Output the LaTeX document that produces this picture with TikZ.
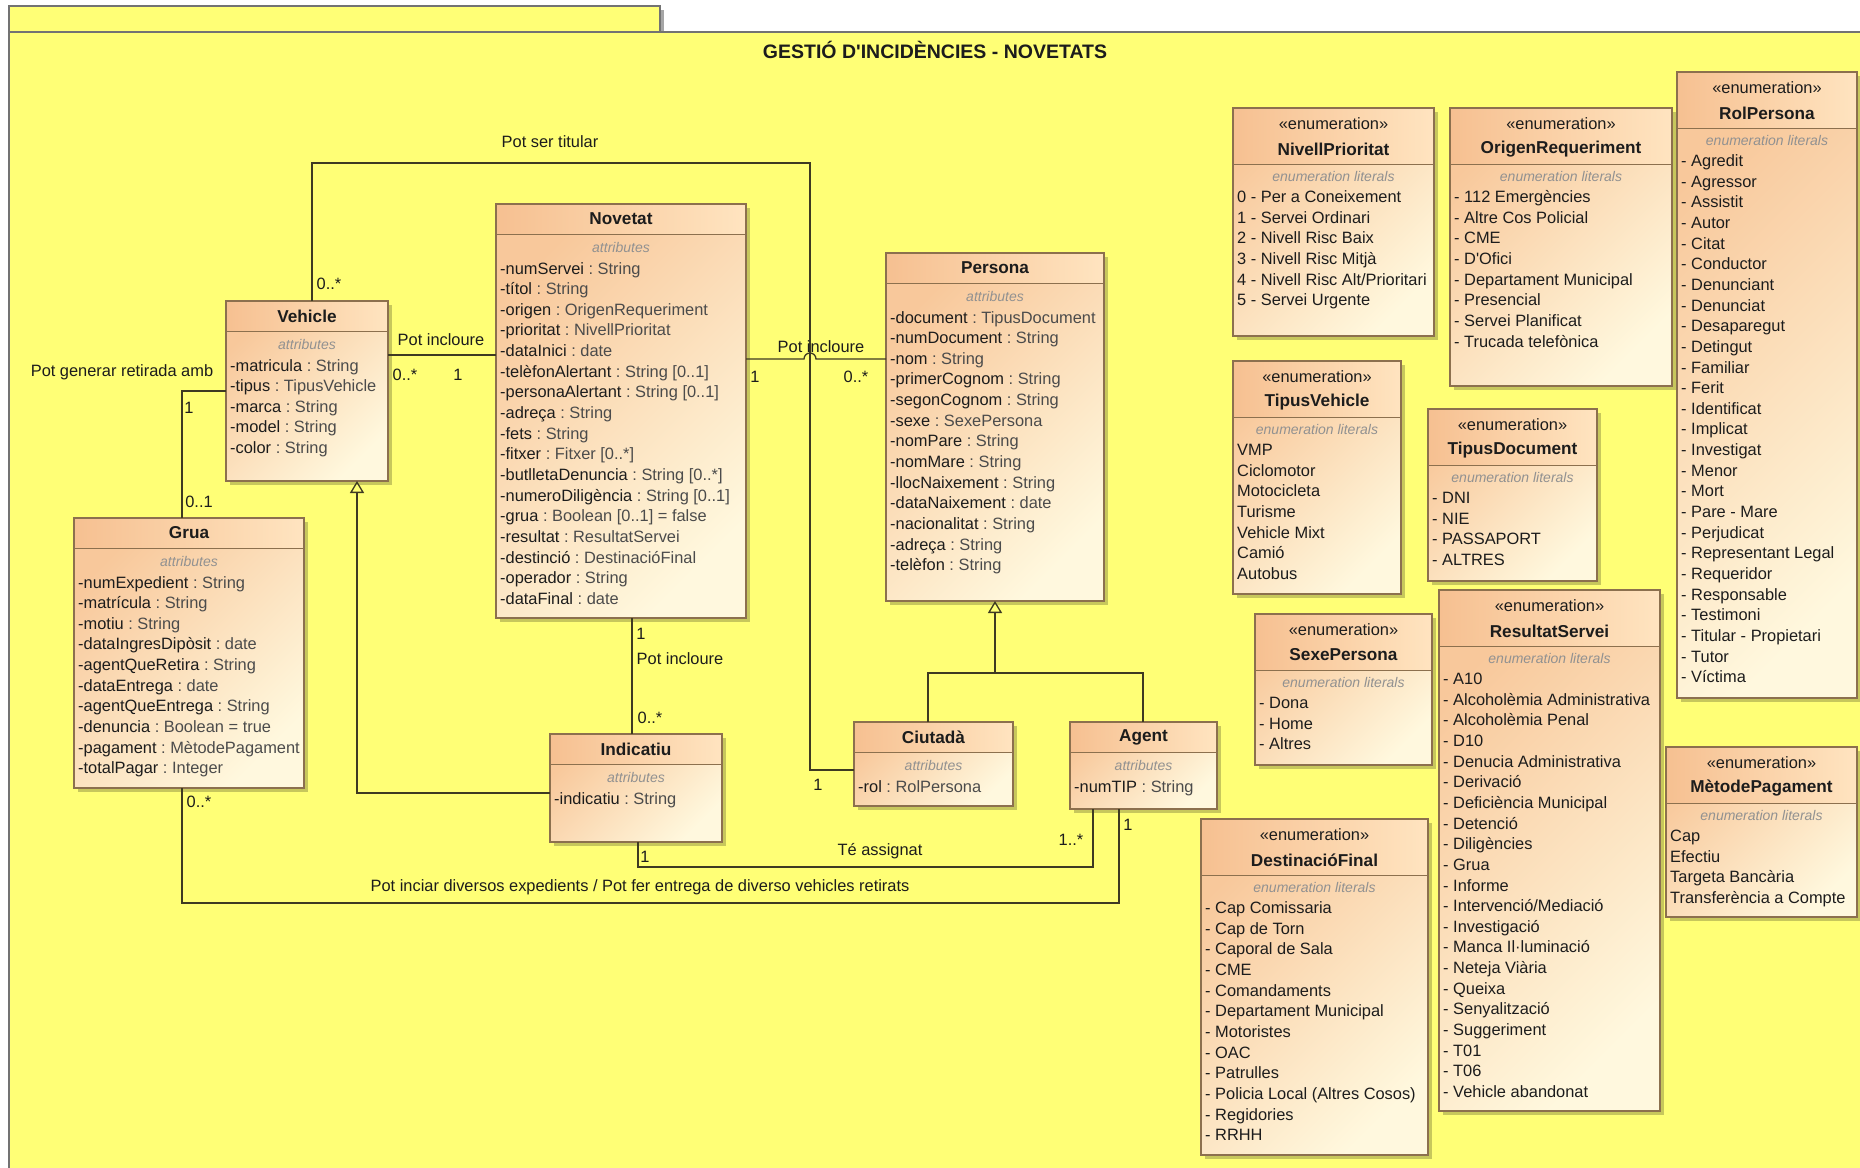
\documentclass[tikz,border=0pt]{standalone}
\usepackage{fontspec}
\setmainfont{Liberation Sans}
\usetikzlibrary{calc,shadows,arrows.meta}
\definecolor{bg}{RGB}{255,255,118}
\definecolor{boxA}{RGB}{248,200,155}
\definecolor{boxB}{RGB}{255,248,222}
\definecolor{hdrA}{RGB}{246,192,145}
\definecolor{hdrB}{RGB}{255,228,192}
\definecolor{brd}{RGB}{140,112,78}
\definecolor{lblc}{RGB}{145,145,145}
\definecolor{txtc}{RGB}{28,28,28}
\definecolor{tyc}{RGB}{75,75,75}
\definecolor{lnc}{RGB}{62,58,34}
\definecolor{frm}{RGB}{115,115,115}
\newcommand\atr[2]{#1\ \textcolor{tyc}{:\ #2}}
\tikzset{
  boxbg/.style={shade, top color=boxA, bottom color=boxB, shading angle=45,
    inner sep=0pt, outer sep=0pt,
    drop shadow={shadow xshift=4pt, shadow yshift=-4pt, fill=black, opacity=0.22}},
  hdrbg/.style={left color=hdrA, right color=hdrB},
  boxline/.style={draw=brd, line width=1.1pt},
  sepline/.style={draw=brd, line width=1pt},
  clsname/.style={font=\fontsize{17.2}{20}\selectfont\bfseries, text=txtc, inner sep=0pt},
  stereo/.style={font=\fontsize{16.4}{20}\selectfont, text=txtc, inner sep=0pt},
  seclbl/.style={font=\fontsize{14}{16}\selectfont\itshape, text=lblc, inner sep=0pt},
  attr/.style={font=\fontsize{16.4}{20}\selectfont, text=txtc, inner sep=0pt},
  lab/.style={font=\fontsize{16.4}{20}\selectfont, text=txtc, inner sep=0pt},
  conn/.style={draw=lnc, line width=1.3pt},
  gen/.style={-{Triangle[open,length=12pt,width=14pt]}},
  framel/.style={draw=frm, line width=1.4pt}
}
\newcommand\umlbox[6]{%
  \node[boxbg, minimum width=#4pt, minimum height=#5pt, anchor=north west] (#1) at (#2,#3) {};
  \fill[hdrbg] (#1.north west) rectangle ($(#1.north east)+(0,#6)$);
  \draw[sepline] ($(#1.north west)+(0,#6)$) -- ($(#1.north east)+(0,#6)$);
  \draw[boxline] (#1.north west) rectangle (#1.south east);
}
\newcommand\umlclass[7]{%
  \umlbox{#1}{#2}{#3}{#4}{#5}{30}
  \node[clsname] (#1T) at ($(#1.north)+(0,15)$) {#6};
  \node[seclbl] (#1S) at ($(#1.north)+(0,43)$) {attributes};
  \foreach \itm [count=\i] in {#7} {
    \node[attr, anchor=base west] (#1L\i) at ($(#1.north west)+(4,{70+(\i-1)*20.65})$) {\itm};
  }
}
\newcommand\umlenum[7]{%
  \umlbox{#1}{#2}{#3}{#4}{#5}{56}
  \node[stereo] (#1St) at ($(#1.north)+(0,16)$) {«enumeration»};
  \node[clsname] (#1T) at ($(#1.north)+(0,41)$) {#6};
  \node[seclbl] (#1S) at ($(#1.north)+(0,68)$) {enumeration literals};
  \foreach \itm [count=\i] in {#7} {
    \node[attr, anchor=base west] (#1L\i) at ($(#1.north west)+(4,{94.5+(\i-1)*20.65})$) {\itm};
  }
}
\begin{document}
\begin{tikzpicture}[x=1pt,y=-1pt]
\useasboundingbox (0,0) rectangle (1860,1167);
\fill[white] (0,0) rectangle (1860,1167);
% frame
\fill[black!35] (660,10) rectangle (664,32);
\draw[framel, fill=bg] (9,6) rectangle (660,32);
\draw[framel, fill=bg] (9,32) rectangle (1880,1190);
\node[font=\fontsize{19.5}{22}\selectfont\bfseries, text=txtc, inner sep=0pt] (title) at (935,50) {GESTIÓ D\textquotesingle INCIDÈNCIES - NOVETATS};

% ---------- classes ----------
\umlclass{veh}{226}{301}{162}{180}{Vehicle}{\atr{-matricula}{String},\atr{-tipus}{TipusVehicle},\atr{-marca}{String},\atr{-model}{String},\atr{-color}{String}}

\umlclass{nov}{496}{204}{250}{414}{Novetat}{\atr{-numServei}{String},\atr{-títol}{String},\atr{-origen}{OrigenRequeriment},\atr{-prioritat}{NivellPrioritat},\atr{-dataInici}{date},\atr{-telèfonAlertant}{String [0..1]},\atr{-personaAlertant}{String [0..1]},\atr{-adreça}{String},\atr{-fets}{String},\atr{-fitxer}{Fitxer [0..*]},\atr{-butlletaDenuncia}{String [0..*]},\atr{-numeroDiligència}{String [0..1]},\atr{-grua}{Boolean [0..1] = false},\atr{-resultat}{ResultatServei},\atr{-destinció}{DestinacióFinal},\atr{-operador}{String},\atr{-dataFinal}{date}}

\umlclass{per}{886}{253}{218}{348}{Persona}{\atr{-document}{TipusDocument},\atr{-numDocument}{String},\atr{-nom}{String},\atr{-primerCognom}{String},\atr{-segonCognom}{String},\atr{-sexe}{SexePersona},\atr{-nomPare}{String},\atr{-nomMare}{String},\atr{-llocNaixement}{String},\atr{-dataNaixement}{date},\atr{-nacionalitat}{String},\atr{-adreça}{String},\atr{-telèfon}{String}}

\umlclass{gru}{74}{518}{230}{270}{Grua}{\atr{-numExpedient}{String},\atr{-matrícula}{String},\atr{-motiu}{String},\atr{-dataIngresDipòsit}{date},\atr{-agentQueRetira}{String},\atr{-dataEntrega}{date},\atr{-agentQueEntrega}{String},\atr{-denuncia}{Boolean = true},\atr{-pagament}{MètodePagament},\atr{-totalPagar}{Integer}}

\umlclass{ind}{550}{734}{172}{108}{Indicatiu}{\atr{-indicatiu}{String}}
\umlclass{ciu}{854}{722}{159}{84}{Ciutadà}{\atr{-rol}{RolPersona}}
\umlclass{agt}{1070}{722}{147}{87}{Agent}{\atr{-numTIP}{String}}

% ---------- enumerations ----------
\umlenum{np}{1233}{108}{201}{228}{NivellPrioritat}{0 - Per a Coneixement,1 - Servei Ordinari,2 - Nivell Risc Baix,3 - Nivell Risc Mitjà,4 - Nivell Risc Alt/Prioritari,5 - Servei Urgente}

\umlenum{orq}{1450}{108}{222}{278}{OrigenRequeriment}{- 112 Emergències,- Altre Cos Policial,- CME,- D\textquotesingle Ofici,- Departament Municipal,- Presencial,- Servei Planificat,- Trucada telefònica}

\umlenum{rol}{1677}{72}{180}{626}{RolPersona}{- Agredit,- Agressor,- Assistit,- Autor,- Citat,- Conductor,- Denunciant,- Denunciat,- Desaparegut,- Detingut,- Familiar,- Ferit,- Identificat,- Implicat,- Investigat,- Menor,- Mort,- Pare - Mare,- Perjudicat,- Representant Legal,- Requeridor,- Responsable,- Testimoni,- Titular - Propietari,- Tutor,- Víctima}

\umlenum{tv}{1233}{361}{168}{233}{TipusVehicle}{VMP,Ciclomotor,Motocicleta,Turisme,Vehicle Mixt,Camió,Autobus}

\umlenum{td}{1428}{409}{169}{172}{TipusDocument}{- DNI,- NIE,- PASSAPORT,- ALTRES}

\umlenum{sx}{1255}{614}{177}{151}{SexePersona}{- Dona,- Home,- Altres}

\umlenum{rs}{1439}{590}{221}{521}{ResultatServei}{- A10,- Alcoholèmia Administrativa,- Alcoholèmia Penal,- D10,- Denucia Administrativa,- Derivació,- Deficiència Municipal,- Detenció,- Diligències,- Grua,- Informe,- Intervenció/Mediació,- Investigació,- Manca Il·luminació,- Neteja Viària,- Queixa,- Senyalització,- Suggeriment,- T01,- T06,- Vehicle abandonat}

\umlenum{mp}{1666}{747}{191}{170}{MètodePagament}{Cap,Efectiu,Targeta Bancària,Transferència a Compte}

\umlenum{df}{1201}{819}{227}{336}{DestinacióFinal}{- Cap Comissaria,- Cap de Torn,- Caporal de Sala,- CME,- Comandaments,- Departament Municipal,- Motoristes,- OAC,- Patrulles,- Policia Local (Altres Cosos),- Regidories,- RRHH}

% ---------- connectors ----------
% Pot ser titular: Vehicle -- Ciutada
\draw[conn] (veh.north west) ++(86,0) |- (810,163) |- ($(ciu.north west)+(0,48)$);
% Vehicle -- Novetat
\draw[conn] ($(veh.north east)+(0,54)$) -- ($(nov.north west)+(0,151)$);
% Novetat -- Persona (with hop)
\draw[conn] ($(nov.north east)+(0,155)$) -- ++(58,0) arc[start angle=180,end angle=0,radius=6pt] -- ($(per.north west)+(0,106)$);
% Vehicle -- Grua
\draw[conn] ($(veh.north west)+(0,90)$) -| ($(gru.north west)+(108,0)$);
% Novetat -- Indicatiu
\draw[conn] ($(nov.south west)+(136,0)$) -- ($(ind.north west)+(82,0)$);
% Indicatiu generalises Vehicle
\draw[conn,gen] ($(ind.north west)+(0,59)$) -| ($(veh.south west)+(131,0)$);
% Ciutada / Agent generalise Persona
\draw[conn] ($(ciu.north west)+(74,0)$) |- ($(agt.north west)+(73,-49)$) -- ($(agt.north west)+(73,0)$);
\draw[conn,gen] ($(per.south)+(0,72)$) -- (per.south);
% Te assignat: Indicatiu -- Agent
\draw[conn] ($(ind.south west)+(88,0)$) |- ($(agt.south west)+(23,58)$) -- ($(agt.south west)+(23,0)$);
% Grua -- Agent
\draw[conn] ($(gru.south west)+(108,0)$) |- ($(agt.south west)+(49,94)$) -- ($(agt.south west)+(49,0)$);

% ---------- connector labels ----------
\node[lab] (l1) at (550,142) {Pot ser titular};
\node[lab] (m1) at (329,284) {0..*};
\node[lab] (m2) at (818,785) {1};
\node[lab] (l2) at (441,340) {Pot incloure};
\node[lab] (m3) at (405,375) {0..*};
\node[lab] (m4) at (458,375) {1};
\node[lab] (l3) at (821,347) {Pot incloure};
\node[lab] (m5) at (755,377) {1};
\node[lab] (m6) at (856,377) {0..*};
\node[lab] (l4) at (122,372) {Pot generar retirada amb};
\node[lab] (m7) at (189,408) {1};
\node[lab] (m8) at (199,502) {0..1};
\node[lab] (m9) at (641,634) {1};
\node[lab] (l5) at (680,659) {Pot incloure};
\node[lab] (m10) at (650,718) {0..*};
\node[lab] (m11) at (645,857) {1};
\node[lab] (l6) at (880,851) {Té assignat};
\node[lab] (m12) at (1071,840) {1..*};
\node[lab] (m13) at (199,802) {0..*};
\node[lab] (m14) at (1128,825) {1};
\node[lab] (l7) at (640,887) {Pot inciar diversos expedients / Pot fer entrega de diverso vehicles retirats};
\end{tikzpicture}
\end{document}
